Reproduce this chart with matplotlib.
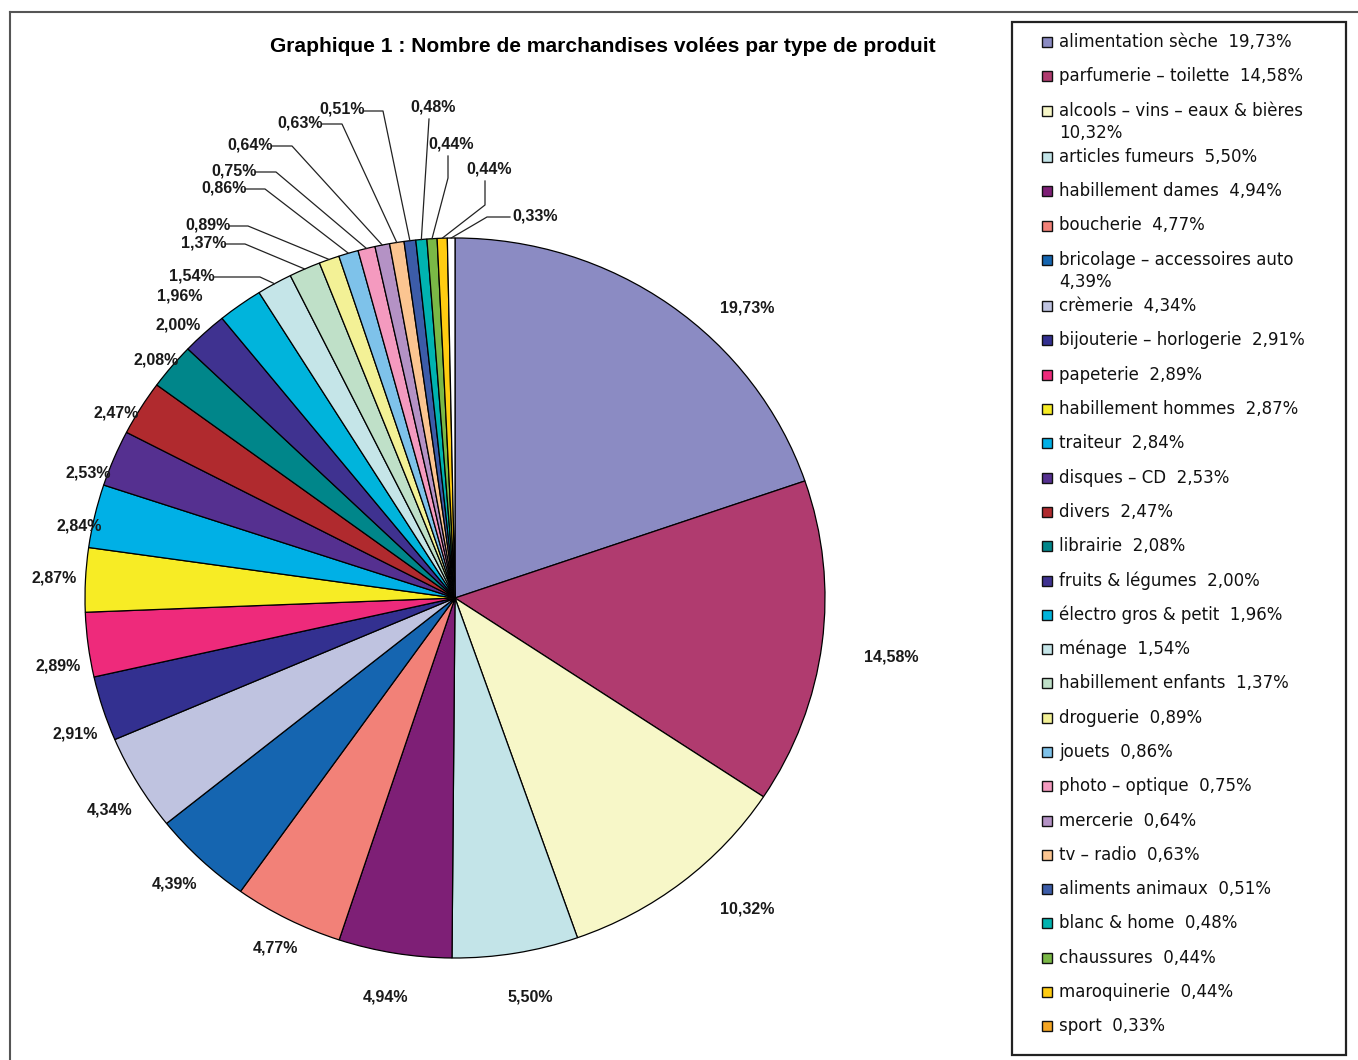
import matplotlib
matplotlib.use("Agg")
import matplotlib.pyplot as plt
from matplotlib.patches import Rectangle
from matplotlib.lines import Line2D
import numpy as np

# ---------------- data ----------------
title = "Graphique 1 : Nombre de marchandises volées par type de produit"
categories = [
    "alimentation sèche", "parfumerie – toilette", "alcools – vins – eaux & bières",
    "articles fumeurs", "habillement dames", "boucherie",
    "bricolage – accessoires auto", "crèmerie", "bijouterie – horlogerie",
    "papeterie", "habillement hommes", "traiteur", "disques – CD", "divers",
    "librairie", "fruits & légumes", "électro gros & petit", "ménage",
    "habillement enfants", "droguerie", "jouets", "photo – optique",
    "mercerie", "tv – radio", "aliments animaux", "blanc & home",
    "chaussures", "maroquinerie", "sport",
]
values = [19.73, 14.58, 10.32, 5.50, 4.94, 4.77, 4.39, 4.34, 2.91, 2.89,
          2.87, 2.84, 2.53, 2.47, 2.08, 2.00, 1.96, 1.54, 1.37, 0.89,
          0.86, 0.75, 0.64, 0.63, 0.51, 0.48, 0.44, 0.44, 0.33]
colors = ["#8B8BC3", "#B03B6F", "#F7F7C8", "#C3E4E8", "#7E1F76", "#F28178",
          "#1565B0", "#BFC3E0", "#333090", "#EE2A7B", "#F7EC25", "#00B0E6",
          "#553090", "#B02A2E", "#00868A", "#3F3290", "#00B4DC", "#C5E5E8",
          "#BFE0C8", "#F3F196", "#7EC2EA", "#F49ABF", "#B492C5", "#FBC591",
          "#3C5CA8", "#00B3B0", "#7AB846", "#FFCC11", "#F5A623"]

# ---------------- layout ----------------
W, H = 1358, 1060
CX, CY, RX, RY = 455, 598, 370, 360        # pie centre / radii in pixels
wrapped = {2, 6}                            # legend entries on two lines

# label centres (pixels) as placed on the original chart
label_px = [(747, 308), (891, 657), (747, 909), (530, 997), (386, 997),
            (275, 948), (175, 884), (110, 810), (75, 734), (58, 666),
            (54, 578), (79, 526), (88, 473), (116, 413), (156, 360),
            (178, 325), (180, 296), (192, 276), (204, 243), (208, 225),
            (224, 188), (234, 171), (250, 145), (300, 123), (342, 109),
            (433, 107), (451, 144), (489, 169), (535, 216)]
# leader lines: index -> (attach point, elbow point) in pixels
leaders = {17: ((214, 277), (260, 277)), 18: ((225, 244), (245, 244)),
           19: ((229, 226), (248, 226)), 20: ((245, 189), (265, 189)),
           21: ((255, 172), (276, 172)), 22: ((271, 146), (292, 146)),
           23: ((322, 124), (342, 124)), 24: ((363, 111), (383, 111)),
           25: ((429, 119), (429, 119)), 26: ((448, 156), (448, 178)),
           27: ((485, 181), (485, 205)), 28: ((510, 217), (487, 217))}


def px2d(x, y):
    return (x - CX) / RX, (CY - y) / RY


def fmt(v):
    return f"{v:.2f}".replace(".", ",") + "%"


fig = plt.figure(figsize=(W / 100, H / 100), dpi=100)
ax = fig.add_axes([0, 0, 1, 1])

wedges, _ = ax.pie(values, colors=colors, startangle=90, counterclock=False,
                   radius=1.0,
                   wedgeprops=dict(edgecolor="black", linewidth=0.9))
wedges[-1].set_facecolor("white")
ax.set_aspect("auto")
ax.set_xlim(-CX / RX, (W - CX) / RX)
ax.set_ylim((CY - H) / RY, CY / RY)
ax.axis("off")

lab_font = dict(family="Liberation Sans", weight="bold", size=11.5,
                color="#1a1a1a")
total = sum(values)
cum = np.concatenate([[0], np.cumsum(values)])
for i, v in enumerate(values):
    lx, ly = px2d(*label_px[i])
    if i in leaders:
        mid = np.deg2rad(360 * (cum[i] + v / 2) / total)
        ex, ey = np.sin(mid), np.cos(mid)
        (ax_, ay_), (bx_, by_) = leaders[i]
        a = px2d(ax_, ay_)
        b = px2d(bx_, by_)
        ax.add_line(Line2D([a[0], b[0], ex], [a[1], b[1], ey],
                           color="#222222", lw=0.9))
    ax.text(lx, ly, fmt(v), ha="center", va="center", **lab_font)

# title
fig.text(603 / W, 1 - 47 / H, title, ha="center", va="center",
         family="Liberation Sans", weight="bold", size=15.1, color="black")

# outer frame (left + top lines)
fig.add_artist(Line2D([10 / W, 1], [1 - 12 / H] * 2, transform=fig.transFigure,
                      color="#555555", lw=1.5))
fig.add_artist(Line2D([10 / W] * 2, [0, 1 - 12 / H], transform=fig.transFigure,
                      color="#555555", lw=1.5))

# legend box
fig.add_artist(Rectangle((1012 / W, 1 - 1055 / H), (1346 - 1012) / W,
                         (1055 - 22) / H, transform=fig.transFigure,
                         facecolor="white", edgecolor="#222222", lw=1.6))
y = 42.0
step, extra = 34.3, 12.0
for i, (c, v) in enumerate(zip(categories, values)):
    fig.add_artist(Rectangle((1042 / W, 1 - (y + 5) / H), 10 / W, 10 / H,
                             transform=fig.transFigure, facecolor=colors[i],
                             edgecolor="#111111", lw=1.0))
    tf = dict(family="DejaVu Sans", size=12, color="#111111",
              ha="left", va="center")
    if i in wrapped:
        fig.text(1059 / W, 1 - y / H, c, **tf)
        fig.text(1059 / W, 1 - (y + 22) / H, fmt(v), **tf)
        y += step + extra
    else:
        fig.text(1059 / W, 1 - y / H, f"{c}  {fmt(v)}", **tf)
        y += step

fig.savefig("out.png", dpi=100)
